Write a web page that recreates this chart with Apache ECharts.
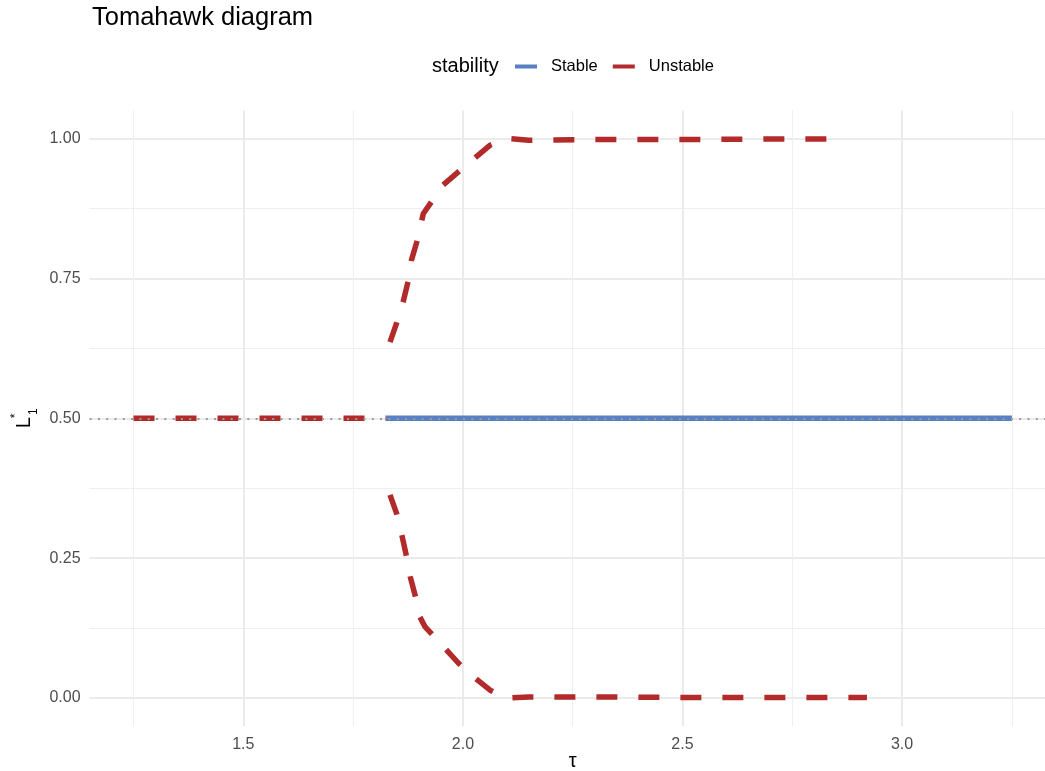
<!DOCTYPE html>
<html>
<head>
<meta charset="utf-8">
<script src="https://cdn.jsdelivr.net/npm/echarts@6/dist/echarts.min.js"></script>
<style>
  html, body { margin: 0; padding: 0; background: #ffffff; }
  #chart { width: 1045px; height: 771px; }
</style>
</head>
<body>
<div id="chart"></div>
<script>
// Equilibrium values of L1* against tau
const tauStable = [1.825, 3.25];
const stableL = [0.5, 0.5];

const tauUnstableMid = [1.25, 1.825];
const unstableMidL = [0.5, 0.5];

const tauUpper = [1.834, 1.849, 1.864, 1.875, 1.883, 1.895, 1.910, 1.955, 1.989, 2.027, 2.062, 2.100, 2.150, 2.300, 2.500, 2.700, 2.830];
const upperL   = [0.636, 0.670, 0.708, 0.744, 0.783, 0.815, 0.866, 0.917, 0.940, 0.965, 0.988, 1.000, 0.997, 0.998, 0.998, 0.999, 0.999];

const tauLower = [1.834, 1.849, 1.861, 1.870, 1.880, 1.891, 1.902, 1.914, 1.959, 1.989, 2.027, 2.062, 2.100, 2.150, 2.300, 2.500, 2.700, 2.920];
const lowerL   = [0.363, 0.330, 0.291, 0.259, 0.217, 0.184, 0.145, 0.127, 0.089, 0.063, 0.036, 0.014, 0.000, 0.002, 0.002, 0.001, 0.001, 0.001];

// Axis ticks
const xMajorTicks = [1.5, 2.0, 2.5, 3.0];
const xMinorTicks = [1.25, 1.75, 2.25, 2.75, 3.25];
const yMajorTicks = [0, 0.25, 0.5, 0.75, 1.0];
const yMinorTicks = [0.125, 0.375, 0.625, 0.875];
const equilibriumRef = 0.5;

const STABLE_COLOR = '#5880C4';
const UNSTABLE_COLOR = '#B22A2A';
const FONT = '"Liberation Sans", Arial, Helvetica, sans-serif';

const zip = (xs, ys) => xs.map((x, i) => [x, ys[i]]);

const chart = echarts.init(document.getElementById('chart'), null, { renderer: 'canvas' });

const gridLineMajor = { show: true, lineStyle: { color: '#EBEBEB', width: 2 } };
const gridLineMinor = { show: true, lineStyle: { color: '#EFEFEF', width: 1 } };

const unstableLine = {
  type: 'line',
  name: 'Unstable',
  showSymbol: false,
  symbol: 'none',
  color: UNSTABLE_COLOR,
  lineStyle: { color: UNSTABLE_COLOR, width: 5.5, type: [21, 21], cap: 'butt', join: 'round' },
  silent: true,
  z: 3
};

chart.setOption({
  animation: false,
  backgroundColor: '#ffffff',
  textStyle: { fontFamily: FONT },
  title: {
    text: 'Tomahawk diagram',
    left: 92,
    top: 5,
    padding: 0,
    textStyle: { fontSize: 25.5, fontWeight: 'normal', color: '#000000', fontFamily: FONT }
  },
  graphic: [{
    type: 'text',
    style: {
      text: 'stability',
      x: 432,
      y: 66,
      verticalAlign: 'middle',
      font: '20px ' + FONT,
      fill: '#000000'
    }
  }],
  legend: {
    data: [{ name: 'Stable', icon: 'rect' }, { name: 'Unstable', icon: 'rect' }],
    left: 515,
    top: 58,
    padding: 0,
    itemWidth: 22,
    itemHeight: 4,
    itemGap: 15,
    selectedMode: false,
    textStyle: { fontSize: 16.5, color: '#000000', fontFamily: FONT, padding: [0, 0, 0, 9] }
  },
  grid: {
    left: 89.6, top: 110.5, width: 966.2, height: 615.5,
    containLabel: false,
    outerBoundsMode: 'none'
  },
  xAxis: [{
    type: 'value',
    min: 1.15,
    max: 3.35,
    name: 'τ',
    nameLocation: 'middle',
    nameGap: 25,
    nameMoveOverlap: false,
    nameTextStyle: { fontSize: 20, color: '#000000', fontFamily: FONT },
    axisLine: { show: false },
    axisTick: { show: false, customValues: xMajorTicks },
    axisLabel: {
      customValues: xMajorTicks,
      formatter: v => v.toFixed(1),
      fontSize: 16,
      color: '#4D4D4D',
      margin: 11,
      fontFamily: FONT
    },
    splitLine: gridLineMajor
  }, {
    type: 'value',
    min: 1.15,
    max: 3.35,
    axisLine: { show: false },
    axisTick: { show: false, customValues: xMinorTicks },
    axisLabel: { show: false, customValues: xMinorTicks },
    splitLine: gridLineMinor
  }],
  yAxis: [{
    type: 'value',
    min: -0.05,
    max: 1.05,
    name: '{l|L}{s|*}{d|1}',
    nameLocation: 'middle',
    nameRotate: 90,
    nameGap: 50,
    nameMoveOverlap: false,
    nameTextStyle: {
      fontSize: 20,
      color: '#000000',
      fontFamily: FONT,
      rich: {
        l: { fontSize: 20, lineHeight: 30, verticalAlign: 'middle', color: '#000000', fontFamily: FONT },
        s: { fontSize: 12, lineHeight: 30, verticalAlign: 'top', width: 2, color: '#000000', fontFamily: FONT },
        d: { fontSize: 12, lineHeight: 30, verticalAlign: 'bottom', color: '#000000', fontFamily: FONT }
      }
    },
    axisLine: { show: false },
    axisTick: { show: false, customValues: yMajorTicks },
    axisLabel: {
      customValues: yMajorTicks,
      formatter: v => v.toFixed(2),
      fontSize: 16,
      color: '#4D4D4D',
      margin: 9,
      fontFamily: FONT
    },
    splitLine: gridLineMajor
  }, {
    type: 'value',
    min: -0.05,
    max: 1.05,
    axisLine: { show: false },
    axisTick: { show: false, customValues: yMinorTicks },
    axisLabel: { show: false, customValues: yMinorTicks },
    splitLine: gridLineMinor
  }],
  series: [
    {
      type: 'line',
      name: 'Stable',
      data: zip(tauStable, stableL),
      showSymbol: false,
      symbol: 'none',
      color: STABLE_COLOR,
      lineStyle: { color: STABLE_COLOR, width: 5.5, cap: 'butt' },
      silent: true,
      z: 2
    },
    Object.assign({}, unstableLine, { data: zip(tauUnstableMid, unstableMidL) }),
    Object.assign({}, unstableLine, { data: zip(tauUpper, upperL) }),
    Object.assign({}, unstableLine, { data: zip(tauLower, lowerL) }),
    {
      type: 'line',
      name: 'reference',
      data: [],
      silent: true,
      z: 5,
      markLine: {
        silent: true,
        symbol: 'none',
        label: { show: false },
        lineStyle: { color: '#9A9A9A', width: 2, type: [2, 6.3] },
        emphasis: { disabled: true },
        data: [{ yAxis: equilibriumRef }]
      }
    }
  ]
});
</script>
</body>
</html>
